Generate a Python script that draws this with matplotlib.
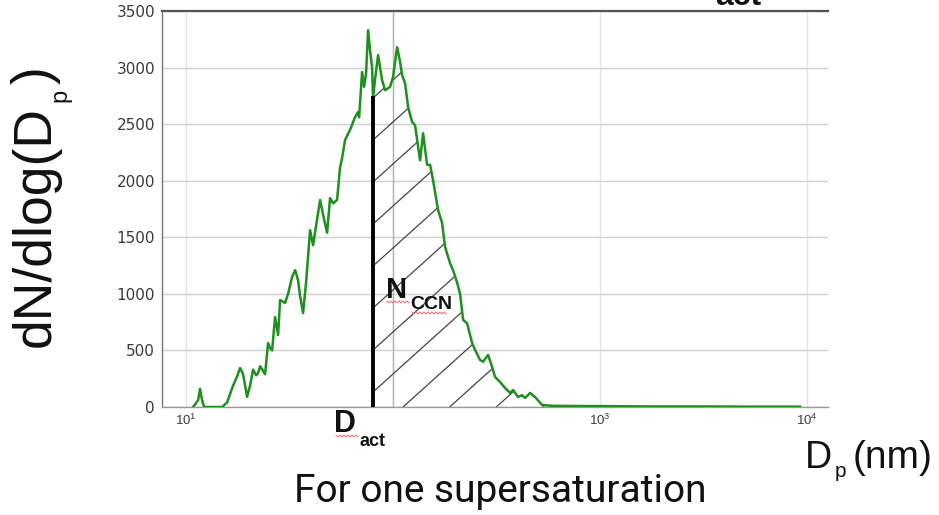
import numpy as np
import matplotlib
matplotlib.use("Agg")
import matplotlib.pyplot as plt
from matplotlib.patches import Polygon
from matplotlib.lines import Line2D

plt.rcParams["mathtext.fontset"] = "custom"
plt.rcParams["mathtext.rm"] = "Liberation Sans"
plt.rcParams["mathtext.it"] = "Liberation Sans:italic"
plt.rcParams["mathtext.bf"] = "Liberation Sans:bold"

# ---------------- data ----------------
diameter_nm = [10.81, 11.43, 11.68, 11.95, 12.22, 14.93, 15.78, 16.87, 17.64, 18.23,
               18.85, 19.71, 20.38, 21.07, 21.79, 22.28, 22.78, 23.55, 24.08, 24.90,
               25.46, 26.03, 26.91, 27.83, 28.45, 29.42, 30.08, 31.10, 32.52, 33.62,
               34.76, 35.54, 36.75, 37.99, 39.72, 41.07, 42.46, 44.40, 45.90, 47.99,
               49.62, 51.31, 53.64, 55.46, 56.71, 58.63, 61.98, 65.53, 67.75, 68.51,
               70.83, 72.43, 74.06, 75.72, 77.43, 79.17, 80.05, 81.86, 84.63, 86.54,
               88.48, 91.49, 96.72, 100.0, 104.55, 108.1, 110.5, 114.3, 118.2, 123.5,
               127.7, 132.1, 135.1, 139.6, 146.0, 151.0, 156.1, 165.0, 172.5, 178.3,
               188.5, 194.9, 203.8, 210.7, 217.9, 227.8, 240.8, 249.0, 263.2, 272.2,
               287.7, 300.8, 311.0, 328.8, 347.6, 367.5, 379.9, 401.7, 420.0, 434.3,
               459.0, 485.3, 524.7, 593.0, 1000, 1744, 3042, 5304, 9252]
dn_dlogdp = [0, 60, 160, 60, 0, 0, 40, 190, 270, 345,
             290, 90, 190, 330, 280, 300, 360, 320, 290, 565,
             520, 500, 795, 636, 945, 930, 920, 1000, 1150, 1210,
             1120, 980, 830, 1100, 1564, 1430, 1600, 1830, 1700, 1540,
             1847, 1800, 1830, 2120, 2200, 2360, 2450, 2563, 2607, 2560,
             2960, 2830, 2950, 3330, 3150, 3005, 2730, 2900, 3110, 3000,
             2890, 2800, 2830, 2917, 3180, 3050, 2935, 2860, 2650, 2520,
             2490, 2300, 2180, 2420, 2140, 2140, 2000, 1740, 1625, 1415,
             1270, 1210, 1100, 1000, 770, 740, 565, 504, 415, 400,
             460, 354, 265, 221, 168, 124, 150, 88, 105, 80,
             124, 88, 18, 10, 8, 5, 5, 3, 3]
d_act = 80.0
y_ticks = [0, 500, 1000, 1500, 2000, 2500, 3000, 3500]
x_ticks = [10, 100, 1000, 10000]
x_ticklabels = [r"$10^{1}$", "", r"$10^{3}$", r"$10^{4}$"]

# ---------------- figure ----------------
W, H = 939, 515
fig = plt.figure(figsize=(W / 100, H / 100), dpi=100)
L, T, R, B = 162, 11, 828, 407
ax = fig.add_axes([L / W, 1 - B / H, (R - L) / W, (B - T) / H])

def fx(px):
    return px / W

def fy(py):
    return 1 - py / H

d = np.array(diameter_nm)
v = np.array(dn_dlogdp)

ax.set_xscale("log")
ax.set_xlim(7.65, 12620)
ax.set_ylim(0, 3500)

# grid
ax.set_yticks(y_ticks)
ax.set_xticks(x_ticks)
ax.set_xticklabels(x_ticklabels)
ax.minorticks_off()
ax.grid(True, axis="y", color="#d0d0d0", linewidth=1.0)
ax.grid(True, axis="x", color="#e4e4e4", linewidth=1.0)
ax.axvline(100, color="#b4b4b4", linewidth=1.0, zorder=1)
ax.set_axisbelow(True)
ax.tick_params(length=0, labelcolor="#3a3a3a")
ax.tick_params(axis="y", pad=5, labelsize=11)
ax.tick_params(axis="x", pad=4, labelsize=9.5)
for lab in ax.get_yticklabels():
    lab.set_family("DejaVu Sans")

ax.spines["right"].set_visible(False)
ax.spines["top"].set_color("#555555")
ax.spines["top"].set_linewidth(1.6)
ax.spines["left"].set_color("#777777")
ax.spines["left"].set_linewidth(1.0)
ax.spines["bottom"].set_color("#999999")
ax.spines["bottom"].set_linewidth(1.0)

# hatched region (N_CCN) to the right of D_act
mask = d >= d_act
h_act = np.interp(np.log10(d_act), np.log10(d), v)
xs = np.concatenate([[d_act], d[mask], [d[mask][-1]]])
ys = np.concatenate([[h_act], v[mask], [0]])
poly = Polygon(np.column_stack([np.concatenate([[d_act], xs]),
                                np.concatenate([[0], ys])]),
               closed=True, facecolor="none", edgecolor="none",
               transform=ax.transData)
ax.add_patch(poly)

# hatch lines (style: slope & spacing in pixels)
slope_px = 0.9
spacing_px = 42
ax_w, ax_h = R - L, B - T
for k in range(-25, 25):
    y0 = 392 - k * spacing_px          # pixel row where line crosses x=373
    xa = np.array([L - 50, R + 50], float)
    ya = y0 - slope_px * (xa - 373)
    line = Line2D((xa - L) / ax_w, (B - ya) / ax_h, transform=ax.transAxes,
                  color="#444444", linewidth=0.9, zorder=2)
    ax.add_line(line)
    line.set_clip_path(poly)

# curve and D_act line
ax.plot(d, v, color="#1f8f1f", linewidth=1.8, zorder=4, solid_joinstyle="round")
ax.vlines(d_act, 0, h_act, color="black", linewidth=2.8, zorder=5)

# y label built from pieces so the subscript sits like the original
lab_kw = dict(rotation=90, rotation_mode="anchor", ha="left", va="baseline",
              family="Liberation Sans", color="#111111")
fig.text(fx(50), fy(347), "dN/dlog(D", fontsize=38.5, **lab_kw)
fig.text(fx(66), fy(102), "p", fontsize=17, **lab_kw)
fig.text(fx(50), fy(84), ")", fontsize=38.5, **lab_kw)

# x label
fig.text(fx(805), fy(468), "D", ha="left", va="baseline", fontsize=27,
         family="Liberation Sans", color="#111111")
fig.text(fx(835), fy(477), "p", ha="left", va="baseline", fontsize=15,
         family="Liberation Sans", color="#111111")
fig.text(fx(853), fy(468), "(nm)", ha="left", va="baseline", fontsize=28,
         family="Liberation Sans", color="#111111")
fig.text(fx(500), fy(492), "For one supersaturation", ha="center", va="center",
         fontsize=28, family="Roboto", color="#111111")

# D_act label
fig.text(fx(334), fy(432), "D", ha="left", va="baseline", fontsize=22,
         family="Liberation Sans", weight="bold", color="#111111")
fig.text(fx(359), fy(446), "act", ha="left", va="baseline", fontsize=13,
         family="Liberation Sans", weight="bold", color="#111111")
# N_CCN label
fig.text(fx(386), fy(298), "N", ha="left", va="baseline", fontsize=21,
         family="Liberation Sans", weight="bold", color="#111111")
fig.text(fx(410), fy(309), "CCN", ha="left", va="baseline", fontsize=14,
         family="Liberation Sans", weight="bold", color="#111111")

# spell-check squiggles under the labels (decoration)
def squiggle(x0, x1, y):
    xx = np.arange(x0, x1 + 0.1, 2.0)
    yy = y + np.where(np.arange(len(xx)) % 2 == 0, -1.0, 1.0)
    fig.add_artist(Line2D(xx / W, 1 - yy / H, transform=fig.transFigure,
                          color="#e07070", linewidth=0.7))

squiggle(336, 358, 436)
squiggle(387, 410, 302)
squiggle(412, 446, 313)

# cut-off text at top
fig.text(fx(738), fy(5), "act", ha="center", va="baseline", fontsize=23,
         family="Liberation Sans", weight="bold", color="#111111")

fig.savefig("out.png", dpi=100)
